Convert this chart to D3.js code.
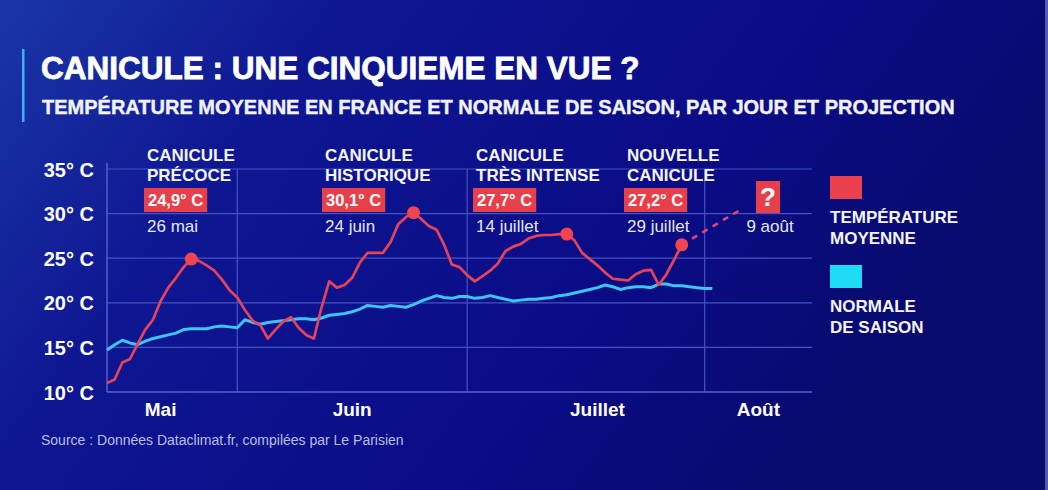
<!DOCTYPE html>
<html>
<head>
<meta charset="utf-8">
<script src="https://cdn.jsdelivr.net/npm/d3@7"></script>
<style>
  body { margin: 0; background: #0b0d86; }
  svg { display: block; font-family: "Liberation Sans", Arial, sans-serif; }
</style>
</head>
<body>
<svg width="1048" height="490"></svg>
<script>
// data
const startDate = "2025-05-15";
const temperatureMoyenne = [
  11.0, 11.4, 13.3, 13.7, 15.4, 17.0, 18.1, 20.2, 21.7, 22.8,
  24.0, 24.9, 24.7, 24.2, 23.6, 22.6, 21.4, 20.6, 19.2, 18.0,
  17.5, 16.0, 17.0, 17.9, 18.4, 17.2, 16.4, 16.0, 19.5, 22.4,
  21.7, 22.0, 22.8, 24.5, 25.6, 25.6, 25.6, 26.8, 28.8, 29.6,
  30.1, 29.4, 28.6, 28.2, 26.5, 24.3, 24.0, 23.1, 22.4, 23.0,
  23.6, 24.4, 25.8, 26.3, 26.6, 27.2, 27.5, 27.6, 27.6, 27.7,
  27.7, 27.0, 25.6, 24.9, 24.2, 23.4, 22.7, 22.6, 22.5, 23.2,
  23.6, 23.7, 22.0, 23.2, 24.8, 26.5
];
const normaleSaison = [
  14.7, 15.3, 15.8, 15.5, 15.3, 15.7, 16.0, 16.2, 16.4, 16.6,
  17.0, 17.1, 17.1, 17.1, 17.3, 17.4, 17.3, 17.2, 18.1, 17.8,
  17.6, 17.8, 17.9, 18.0, 18.1, 18.2, 18.2, 18.1, 18.3, 18.6,
  18.7, 18.8, 19.0, 19.3, 19.7, 19.6, 19.5, 19.7, 19.6, 19.5,
  19.8, 20.2, 20.5, 20.8, 20.6, 20.5, 20.7, 20.7, 20.5, 20.6,
  20.8, 20.6, 20.4, 20.2, 20.3, 20.4, 20.4, 20.5, 20.6, 20.8,
  20.9, 21.1, 21.3, 21.5, 21.7, 22.0, 21.8, 21.5, 21.7, 21.8,
  21.8, 21.7, 22.1, 22.1, 21.9, 21.9, 21.8, 21.7, 21.6, 21.6
];
const yTicks = [10, 15, 20, 25, 30, 35];
const monthLabels = ["Mai", "Juin", "Juillet", "Août"];
const monthLabelDates = ["2025-05-22", "2025-06-16", "2025-07-18", "2025-08-08"];
const monthStarts = ["2025-06-01", "2025-07-01", "2025-08-01"];

const caniculeTitles = [["CANICULE", "PRÉCOCE"], ["CANICULE", "HISTORIQUE"],
                        ["CANICULE", "TRÈS INTENSE"], ["NOUVELLE", "CANICULE"]];
const caniculeValues = [24.9, 30.1, 27.7, 27.2];
const caniculeDates = ["2025-05-26", "2025-06-24", "2025-07-14", "2025-07-29"];
const caniculeDateLabels = ["26 mai", "24 juin", "14 juillet", "29 juillet"];

const projectionDates = ["2025-07-29", "2025-08-06"];
const projectionValues = [26.5, 30.6];
const questionDate = "2025-08-09";
const questionLabel = "9 août";

const legendLabels = [["TEMPÉRATURE", "MOYENNE"], ["NORMALE", "DE SAISON"]];
const legendColors = ["#ea3f4c", "#1fdcf6"];

const svg = d3.select("svg");
const width = +svg.attr("width");
const height = +svg.attr("height");
const parse = d3.timeParse("%Y-%m-%d");
const day0 = parse(startDate);

// background
const defs = svg.append("defs");
const bg = defs.append("linearGradient").attr("id", "bg")
  .attr("x1", 0).attr("y1", 0).attr("x2", 1).attr("y2", 0.35);
bg.append("stop").attr("offset", 0).attr("stop-color", "#1a36a6");
bg.append("stop").attr("offset", 0.3).attr("stop-color", "#0e1692");
bg.append("stop").attr("offset", 0.7).attr("stop-color", "#0a0c86");
bg.append("stop").attr("offset", 1).attr("stop-color", "#080a6c");
svg.append("rect").attr("width", width).attr("height", height).attr("fill", "url(#bg)");
svg.append("rect").attr("x", width - 3).attr("width", 3).attr("height", height)
  .attr("fill", "#8fa2e6").attr("opacity", 0.55);

// titles
svg.append("rect").attr("x", 22).attr("y", 49).attr("width", 2.5).attr("height", 73).attr("fill", "#3fb0ee");
svg.append("text").attr("x", 41).attr("y", 79).attr("fill", "#fff")
  .attr("stroke", "#fff").attr("stroke-width", 0.8)
  .attr("font-size", 31.5).attr("font-weight", "bold")
  .text("CANICULE : UNE CINQUIEME EN VUE ?");
svg.append("text").attr("x", 42).attr("y", 114).attr("fill", "#f2f3ff")
  .attr("stroke", "#f2f3ff").attr("stroke-width", 0.4)
  .attr("font-size", 20).attr("font-weight", "bold")
  .text("TEMPÉRATURE MOYENNE EN FRANCE ET NORMALE DE SAISON, PAR JOUR ET PROJECTION");

// scales
const x = d3.scaleTime().domain([parse("2025-05-15"), parse("2025-08-15")]).range([107, 812]);
const y = d3.scaleLinear().domain([10, 35]).range([392, 169]);
const dayDate = i => d3.timeDay.offset(day0, i);

const grid = svg.append("g");
grid.selectAll("line.h").data(yTicks.slice(1)).join("line")
  .attr("x1", 107).attr("x2", 812)
  .attr("y1", d => y(d)).attr("y2", d => y(d))
  .attr("stroke", "#4652c4").attr("stroke-width", 1.2);
grid.selectAll("line.v").data(monthStarts).join("line")
  .attr("x1", d => x(parse(d))).attr("x2", d => x(parse(d)))
  .attr("y1", y(35)).attr("y2", y(10))
  .attr("stroke", "#4652c4").attr("stroke-width", 1.2);
grid.append("line").attr("x1", x.range()[0]).attr("x2", x.range()[0])
  .attr("y1", y(35) - 6).attr("y2", y(10))
  .attr("stroke", "#5863d0").attr("stroke-width", 1.4);
grid.append("line").attr("x1", 107).attr("x2", 812)
  .attr("y1", y(10)).attr("y2", y(10))
  .attr("stroke", "#5863d0").attr("stroke-width", 1.6);

// y axis labels
svg.append("g").selectAll("text").data(yTicks).join("text")
  .attr("x", 94).attr("y", d => y(d)).attr("dy", "0.38em")
  .attr("text-anchor", "end").attr("fill", "#fff")
  .attr("font-size", 20).attr("font-weight", "bold")
  .text(d => d + "° C");

// month labels
svg.append("g").selectAll("text").data(monthLabels).join("text")
  .attr("x", (d, i) => x(parse(monthLabelDates[i]))).attr("y", 416)
  .attr("text-anchor", "middle").attr("fill", "#fff")
  .attr("font-size", 19).attr("font-weight", "bold")
  .text(d => d);

// lines
const line = d3.line().x((d, i) => x(dayDate(i))).y(d => y(d));
svg.append("path").datum(normaleSaison).attr("d", line)
  .attr("fill", "none").attr("stroke", "#3cc4f2").attr("stroke-width", 3)
  .attr("stroke-linejoin", "round");
svg.append("path").datum(temperatureMoyenne).attr("d", line)
  .attr("fill", "none").attr("stroke", "#e5435a").attr("stroke-width", 2.7)
  .attr("stroke-linejoin", "round");

// projection
svg.append("path")
  .datum(projectionDates.map((d, i) => [x(parse(d)), y(projectionValues[i])]))
  .attr("d", d3.line())
  .attr("fill", "none").attr("stroke", "#e0457a").attr("stroke-width", 2.6)
  .attr("stroke-dasharray", "6 6");

// peak dots
const valueAt = d => temperatureMoyenne[d3.timeDay.count(day0, parse(d))];
svg.append("g").selectAll("circle").data(caniculeDates).join("circle")
  .attr("cx", d => x(parse(d))).attr("cy", d => y(valueAt(d)))
  .attr("r", 6.5).attr("fill", "#f0444f");

// annotations
const annX = [147, 325, 476, 627];
const fmt = v => d3.format(".1f")(v).replace(".", ",") + "° C";
const ann = svg.append("g").selectAll("g").data(caniculeTitles).join("g")
  .attr("transform", (d, i) => `translate(${annX[i]},0)`);
ann.each(function (d, i) {
  const g = d3.select(this);
  g.selectAll("text.t").data(d).join("text").attr("class", "t")
    .attr("x", 0).attr("y", (t, j) => 161 + j * 19.5)
    .attr("fill", "#f4f5ff").attr("font-size", 17).attr("font-weight", "bold")
    .text(t => t);
  const label = g.append("text").attr("x", 1).attr("y", 205.5)
    .attr("fill", "#fff").attr("font-size", 16.5).attr("font-weight", "bold")
    .text(fmt(caniculeValues[i]));
  const w = label.node().getComputedTextLength();
  g.insert("rect", "text:last-of-type").attr("x", -3).attr("y", 188)
    .attr("width", w + 8).attr("height", 24).attr("fill", "#e8404a");
  g.append("text").attr("x", 0).attr("y", 232)
    .attr("fill", "#e4e7f8").attr("font-size", 17)
    .text(caniculeDateLabels[i]);
});

// question mark
const qx = x(parse(questionDate));
svg.append("rect").attr("x", qx - 10).attr("y", 181).attr("width", 24).attr("height", 32)
  .attr("fill", "#e8404a");
svg.append("text").attr("x", qx + 2).attr("y", 206).attr("text-anchor", "middle")
  .attr("fill", "#fff").attr("font-size", 26).attr("font-weight", "bold").text("?");
svg.append("text").attr("x", qx + 4).attr("y", 232).attr("text-anchor", "middle")
  .attr("fill", "#e4e7f8").attr("font-size", 17).text(questionLabel);

// legend
const leg = svg.append("g").selectAll("g").data(legendLabels).join("g")
  .attr("transform", (d, i) => `translate(830,${176 + i * 89})`);
leg.append("rect").attr("width", 32).attr("height", 23).attr("fill", (d, i) => legendColors[i]);
leg.selectAll("text").data(d => d).join("text")
  .attr("x", 0).attr("y", (t, j) => 47 + j * 20.5)
  .attr("fill", "#f4f5ff").attr("font-size", 17).attr("font-weight", "bold")
  .text(t => t);

// source
svg.append("text").attr("x", 41).attr("y", 445).attr("fill", "#b9bde9")
  .attr("font-size", 14).text("Source : Données Dataclimat.fr, compilées par Le Parisien");
</script>
</body>
</html>
